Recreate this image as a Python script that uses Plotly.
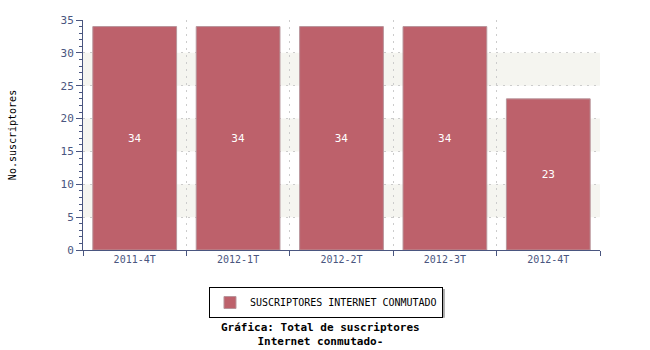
import plotly.graph_objects as go

categories = ["2011-4T", "2012-1T", "2012-2T", "2012-3T", "2012-4T"]
values = [34, 34, 34, 34, 23]
series_name = "SUSCRIPTORES INTERNET CONMUTADO"
y_title = "No.suscriptores"
chart_title = "Gráfica: Total de suscriptores<br>Internet conmutado-"

MONO = "DejaVu Sans Mono"
AXIS_COL = "#4a5680"

fig = go.Figure()
fig.add_trace(go.Bar(
    x=categories, y=values, name=series_name,
    marker=dict(color="#bd616b", line=dict(color="#b8959b", width=1)),
    text=[str(v) for v in values], textposition="inside", insidetextanchor="middle",
    textfont=dict(color="white", family=MONO, size=11),
))

# alternating background bands
for lo, hi in [(25, 30), (15, 20), (5, 10)]:
    fig.add_shape(type="rect", xref="paper", yref="y", x0=0, x1=1, y0=lo, y1=hi,
                  fillcolor="#f5f5f0", line=dict(width=0), layer="below")

# legend shadow (offset 2px right/down from the legend box)
fig.add_shape(type="rect", xref="paper", yref="paper", x0=0.252, x1=0.70, y0=-0.295, y1=-0.17,
              fillcolor="#aaaaaa", line=dict(width=0), layer="below")

fig.update_layout(
    width=650, height=350,
    margin=dict(l=81, r=50, t=20, b=100),
    paper_bgcolor="white", plot_bgcolor="white",
    bargap=0.19,
    showlegend=True,
    legend=dict(orientation="h", x=0.47, xanchor="center", y=-0.161, yanchor="top",
                bordercolor="black", borderwidth=1, bgcolor="white",
                itemwidth=30, tracegroupgap=0,
                font=dict(family=MONO, size=10, color="black")),
    font=dict(family=MONO, size=11, color=AXIS_COL),
    xaxis=dict(
        tickson="boundaries", ticks="outside", ticklen=5, tickcolor=AXIS_COL,
        showline=True, linecolor=AXIS_COL, linewidth=1,
        showgrid=True, gridcolor="#cccccc", griddash="2px,5px", gridwidth=1,
        tickfont=dict(family=MONO, size=10, color=AXIS_COL),
    ),
    yaxis=dict(
        range=[0, 35], dtick=5, ticks="outside", ticklen=6, tickcolor=AXIS_COL,
        showline=True, linecolor=AXIS_COL, linewidth=1,
        showgrid=True, gridcolor="#cccccc", griddash="2px,5px", gridwidth=1,
        zeroline=False,
        minor=dict(dtick=1, ticks="outside", ticklen=3, tickcolor=AXIS_COL, showgrid=False),
        tickfont=dict(family=MONO, size=11, color=AXIS_COL),
        title=dict(text=y_title, font=dict(family=MONO, size=10, color="black"), standoff=42),
    ),
)

fig.add_annotation(text="<b>" + chart_title + "</b>", xref="paper", yref="paper",
                   x=0.46, y=-0.3, xanchor="center", yanchor="top", showarrow=False,
                   font=dict(family=MONO, size=11, color="black"))

fig.write_html("out.html")
